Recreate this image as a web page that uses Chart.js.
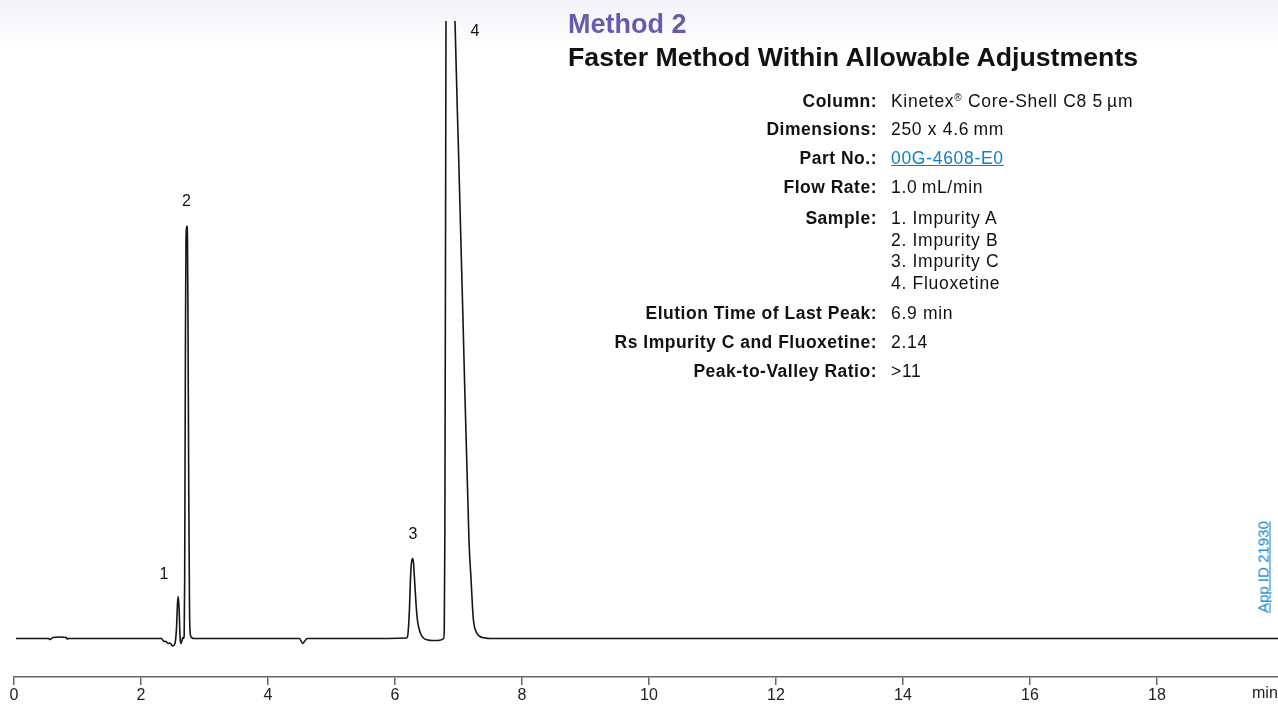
<!DOCTYPE html>
<html>
<head>
<meta charset="utf-8">
<script src="https://cdn.jsdelivr.net/npm/chart.js@4.4.0/dist/chart.umd.min.js"></script>
<style>
  body { margin: 0; background: linear-gradient(#f2f3f8 0px, #ffffff 48px); font-family: "Liberation Sans", Arial, sans-serif; }
  #wrap { position: relative; width: 1278px; height: 704px; overflow: hidden; }
  canvas { position: absolute; left: 0; top: 0; }
  .t { position: absolute; white-space: nowrap; }
  .lab { position: absolute; right: 401px; font-weight: bold; font-size: 17.5px; letter-spacing: 0.5px; line-height: 20px; color: #111; text-align: right; white-space: nowrap; }
  .val { position: absolute; left: 891px; font-size: 17.5px; letter-spacing: 0.7px; line-height: 20px; color: #111; white-space: nowrap; }
  .link { color: #0a7fd0; text-decoration: underline; }
  .reg { position: relative; top: -6px; font-size: 10px; line-height: 0; }
</style>
</head>
<body>
<div id="wrap">
  <canvas id="chromChart" width="1278" height="704"></canvas>

  <div class="t" style="left:568px; top:9px; font-size:27px; font-weight:bold; color:#6a5aad;">Method 2</div>
  <div class="t" style="left:568px; top:42px; font-size:26.7px; font-weight:bold; color:#111;">Faster Method Within Allowable Adjustments</div>

  <div class="lab" style="top:91px;">Column:</div>
  <div class="val" style="top:91px;">Kinetex<span class="reg">®</span> Core-Shell C8 5&#8201;µm</div>
  <div class="lab" style="top:119px;">Dimensions:</div>
  <div class="val" style="top:119px;">250 x 4.6&#8201;mm</div>
  <div class="lab" style="top:148px;">Part No.:</div>
  <div class="val link" style="top:148px;">00G-4608-E0</div>
  <div class="lab" style="top:177px;">Flow Rate:</div>
  <div class="val" style="top:177px;">1.0&#8201;mL/min</div>
  <div class="lab" style="top:208px;">Sample:</div>
  <div class="val" style="top:208px; line-height:21.7px;">1. Impurity A<br>2. Impurity B<br>3. Impurity C<br>4. Fluoxetine</div>
  <div class="lab" style="top:303px;">Elution Time of Last Peak:</div>
  <div class="val" style="top:303px;">6.9 min</div>
  <div class="lab" style="top:332px;">Rs Impurity C and Fluoxetine:</div>
  <div class="val" style="top:332px;">2.14</div>
  <div class="lab" style="top:361px;">Peak-to-Valley Ratio:</div>
  <div class="val" style="top:361px;">&gt;11</div>

  <div class="t link" style="left:1263px; top:567px; font-size:15px; transform:translate(-50%,-50%) rotate(-90deg);">App ID 21930</div>
</div>

<script>
// retention time (min) and detector signal
var times = [0.03, 0.54, 0.57, 0.61, 0.72, 0.82, 0.84, 0.86, 1.5,
    2.326, 2.351, 2.394, 2.430, 2.457, 2.499, 2.535, 2.559, 2.575, 2.587, 2.600, 2.616, 2.630, 2.646, 2.657, 2.670,
    2.680, 2.688, 2.700, 2.708, 2.716, 2.724, 2.732, 2.740, 2.752, 2.764, 2.774, 2.790, 2.830, 3.5,
    4.495, 4.546, 4.567, 4.619, 5.5,
    6.184, 6.205, 6.228, 6.244, 6.260, 6.276, 6.291, 6.307, 6.331, 6.354, 6.378, 6.409, 6.457,
    6.520, 6.583, 6.661, 6.724, 6.765,
    6.776, 6.785, 6.796, 6.803, 6.810, 6.835, 6.860, 6.890, 6.945, 7.000, 7.070, 7.165, 7.197, 7.233, 7.276, 7.339, 7.417, 7.5,
    10, 14, 19.906];
var signal = [0, 0, -1, 1, 1.5, 1, -0.5, 0, 0,
    0, -2.5, -3, -5, -4.5, -7.5, -5, 10, 35, 42, 30, 0, -5, -2, 1, 0,
    3, 60, 300, 395, 410, 412.5, 400, 320, 150, 30, 6, 1.5, 0, 0,
    0, -5, -3.5, 0, 0,
    0.5, 5, 30, 60, 76, 80, 76, 60, 35, 18, 10, 4, 0,
    -1.5, -2, -2, -1.5, 0,
    8, 100, 400, 617.5, 760, 860, 880, 820, 617.5, 488, 321, 98.5, 60, 20, 7, 2, 0.5, 0,
    0, 0, 0];

var xTicks = [0, 2, 4, 6, 8, 10, 12, 14, 16, 18];
var peakNames = ['1', '2', '3', '4'];

// where the peak numbers sit (time, signal)
var peakLabelAt = [[2.362, 63.5], [2.717, 436.5], [6.283, 103.5], [7.26, 606.5]];

var points = times.map(function (t, i) { return { x: t, y: signal[i] }; });

var extraText = {
    id: 'extraText',
    afterDraw: function (chart) {
        var c = chart.ctx;
        var xs = chart.scales.x, ys = chart.scales.y;
        c.save();
        c.fillStyle = '#111';
        c.font = '16px "Liberation Sans", Arial, sans-serif';
        c.textAlign = 'center';
        c.textBaseline = 'middle';
        peakLabelAt.forEach(function (p, i) {
            c.fillText(peakNames[i], xs.getPixelForValue(p[0]), ys.getPixelForValue(p[1]));
        });
        c.textAlign = 'left';
        c.fillStyle = '#222';
        c.fillText('min', chart.chartArea.right - 26, xs.bottom - 10);
        c.restore();
    }
};

var ctx = document.getElementById('chromChart').getContext('2d');
var chromChart = new Chart(ctx, {
    type: 'line',
    data: {
        datasets: [{
            data: points,
            borderColor: '#151515',
            borderWidth: 1.6,
            pointRadius: 0,
            fill: false,
            cubicInterpolationMode: 'monotone'
        }]
    },
    options: {
        responsive: false,
        animation: false,
        layout: { padding: { left: 14, top: 21, right: 0, bottom: 0 } },
        plugins: {
            legend: { display: false },
            tooltip: { enabled: false }
        },
        scales: {
            x: {
                type: 'linear',
                min: 0,
                max: 19.906,
                afterBuildTicks: function (scale) {
                    scale.ticks = xTicks.map(function (v) { return { value: v }; });
                },
                afterFit: function (scale) { scale.height = 27; },
                ticks: {
                    color: '#222',
                    padding: 1,
                    maxRotation: 0,
                    autoSkip: false,
                    font: { family: 'Liberation Sans', size: 16 }
                },
                grid: { drawOnChartArea: false, drawTicks: true, tickLength: 8, color: '#666', lineWidth: 1.5 },
                border: { color: '#666', width: 1.5 }
            },
            y: {
                display: false,
                min: -38.5,
                max: 617.5
            }
        }
    },
    plugins: [extraText]
});
</script>
</body>
</html>
